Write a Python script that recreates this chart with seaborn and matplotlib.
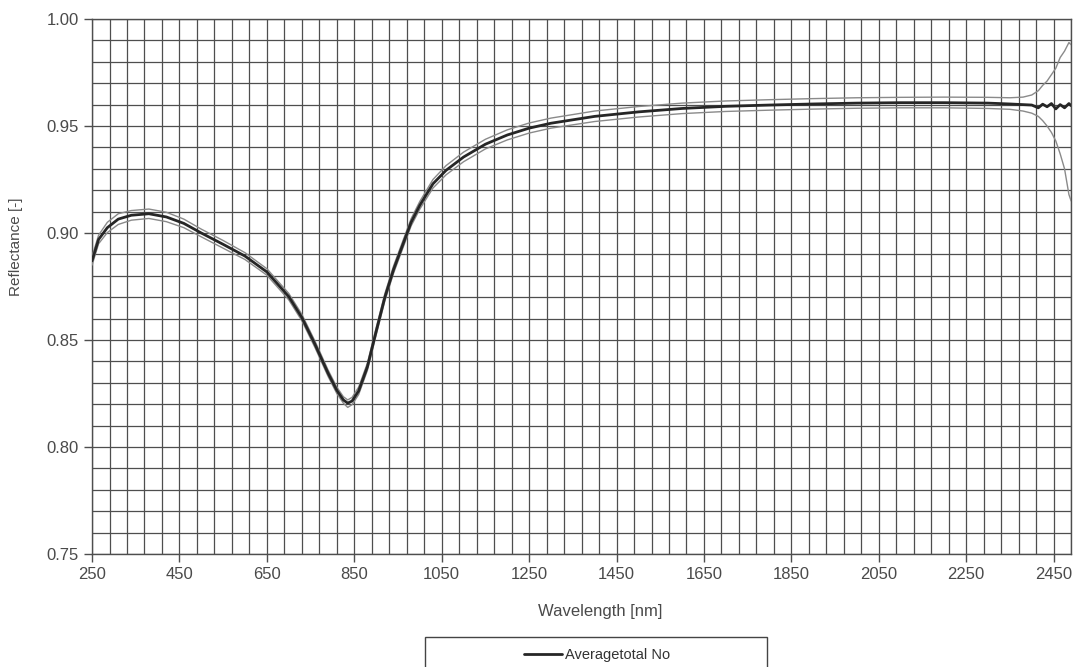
import matplotlib
matplotlib.use("Agg")
import matplotlib.pyplot as plt
from matplotlib.patches import Rectangle
from matplotlib.ticker import FixedLocator, MultipleLocator
import seaborn as sns
import numpy as np

# Wavelength [nm] and reflectance
wavelength = [250, 265, 285, 310, 340, 380, 420, 460, 500, 550,
              600, 650, 700, 730, 760, 790, 810, 825, 835, 845,
              860, 880, 900, 920, 940, 960, 980, 1000, 1030, 1060,
              1100, 1150, 1200, 1250, 1300, 1400, 1500, 1600, 1700, 1800,
              1900, 2000, 2100, 2200, 2300, 2350, 2380, 2400, 2415, 2425,
              2435, 2445, 2455, 2465, 2475, 2485, 2490]

average = [0.8870, 0.8970, 0.9025, 0.9065, 0.9083, 0.9090, 0.9075, 0.9045, 0.9000, 0.8947,
           0.8892, 0.8818, 0.8703, 0.8605, 0.8480, 0.8345, 0.8265, 0.8220, 0.8205, 0.8215,
           0.8262, 0.8375, 0.8540, 0.8700, 0.8830, 0.8940, 0.9050, 0.9130, 0.9230, 0.9293,
           0.9355, 0.9415, 0.9458, 0.9490, 0.9513, 0.9545, 0.9566, 0.9582, 0.9592, 0.9598,
           0.9603, 0.9607, 0.9609, 0.9609, 0.9607, 0.9603, 0.9600, 0.9598, 0.9585, 0.9602,
           0.9590, 0.9605, 0.9580, 0.9600, 0.9585, 0.9605, 0.9595]

upper = [0.8890, 0.8990, 0.9050, 0.9090, 0.9105, 0.9112, 0.9097, 0.9065, 0.9018, 0.8965,
         0.8908, 0.8833, 0.8718, 0.8620, 0.8495, 0.8360, 0.8280, 0.8235, 0.8220, 0.8232,
         0.8280, 0.8392, 0.8557, 0.8717, 0.8847, 0.8957, 0.9067, 0.9148, 0.9250, 0.9315,
         0.9378, 0.9438, 0.9482, 0.9514, 0.9537, 0.9570, 0.9591, 0.9607, 0.9617, 0.9623,
         0.9628, 0.9632, 0.9634, 0.9635, 0.9634, 0.9632, 0.9635, 0.9645, 0.9665, 0.9690,
         0.9710, 0.9740, 0.9770, 0.9820, 0.9850, 0.9890, 0.9880]

lower = [0.8850, 0.8950, 0.9002, 0.9040, 0.9060, 0.9068, 0.9053, 0.9025, 0.8982, 0.8929,
         0.8876, 0.8803, 0.8688, 0.8590, 0.8465, 0.8330, 0.8250, 0.8205, 0.8185, 0.8198,
         0.8245, 0.8358, 0.8523, 0.8683, 0.8813, 0.8923, 0.9033, 0.9112, 0.9210, 0.9272,
         0.9333, 0.9393, 0.9435, 0.9467, 0.9490, 0.9521, 0.9542, 0.9558, 0.9568, 0.9574,
         0.9579, 0.9583, 0.9585, 0.9585, 0.9582, 0.9578, 0.9570, 0.9560, 0.9545, 0.9525,
         0.9500, 0.9470, 0.9430, 0.9370, 0.9300, 0.9180, 0.9150]

sns.set_theme(style="white")
plt.rcParams["font.family"] = ["Liberation Sans", "DejaVu Sans"]

fig = plt.figure(figsize=(10.74, 6.67), dpi=100)
ax = fig.add_axes([0.0857, 0.1694, 0.9116, 0.8021])

grid_col = "#4e4e4e"
sns.lineplot(x=wavelength, y=upper, ax=ax, color="#8a8a8a", lw=1.0, sort=False, estimator=None, zorder=3)
sns.lineplot(x=wavelength, y=lower, ax=ax, color="#8a8a8a", lw=1.0, sort=False, estimator=None, zorder=3)
sns.lineplot(x=wavelength, y=average, ax=ax, color="#262626", lw=2.0, sort=False, estimator=None,
             label="Averagetotal No", zorder=4)

ax.set_xlim(250, 2490)
ax.set_ylim(0.75, 1.00)
ax.xaxis.set_major_locator(FixedLocator(np.arange(250, 2451, 200)))
ax.xaxis.set_minor_locator(FixedLocator(np.arange(250, 2491, 40)))
ax.yaxis.set_major_locator(MultipleLocator(0.05))
ax.yaxis.set_minor_locator(MultipleLocator(0.01))
ax.set_yticklabels([f"{v:.2f}" for v in ax.get_yticks()])
ax.grid(which="both", color=grid_col, lw=0.9)
ax.set_axisbelow(True)

for s in ax.spines.values():
    s.set_color(grid_col)
    s.set_linewidth(1.0)

ax.tick_params(which="major", direction="out", length=5.5, width=1, color=grid_col,
               labelsize=12, labelcolor="#4a4a4a", bottom=True, left=True)
ax.tick_params(axis="x", which="major", pad=4)
ax.tick_params(axis="y", which="major", pad=4)
ax.tick_params(which="minor", length=0)

ax.set_xlabel("Wavelength [nm]", fontsize=12, color="#4a4a4a")
ax.set_ylabel("Reflectance [-]", fontsize=11, color="#4a4a4a")
ax.xaxis.set_label_coords(0.519, -0.094)
ax.yaxis.set_label_coords(-0.071, 0.574)

ax.get_legend().remove()
handles, labels = ax.get_legend_handles_labels()
fig.legend(handles, labels, loc="center", bbox_to_anchor=(0.556, 0.018), frameon=False,
           fontsize=10.5, handlelength=2.6, handletextpad=0.2, labelcolor="#333333")
fig.patches.append(Rectangle((0.3957, -0.1), 0.3184, 0.145, transform=fig.transFigure,
                             fill=False, edgecolor="#444444", lw=1.0))

fig.savefig("out.png", dpi=100)
